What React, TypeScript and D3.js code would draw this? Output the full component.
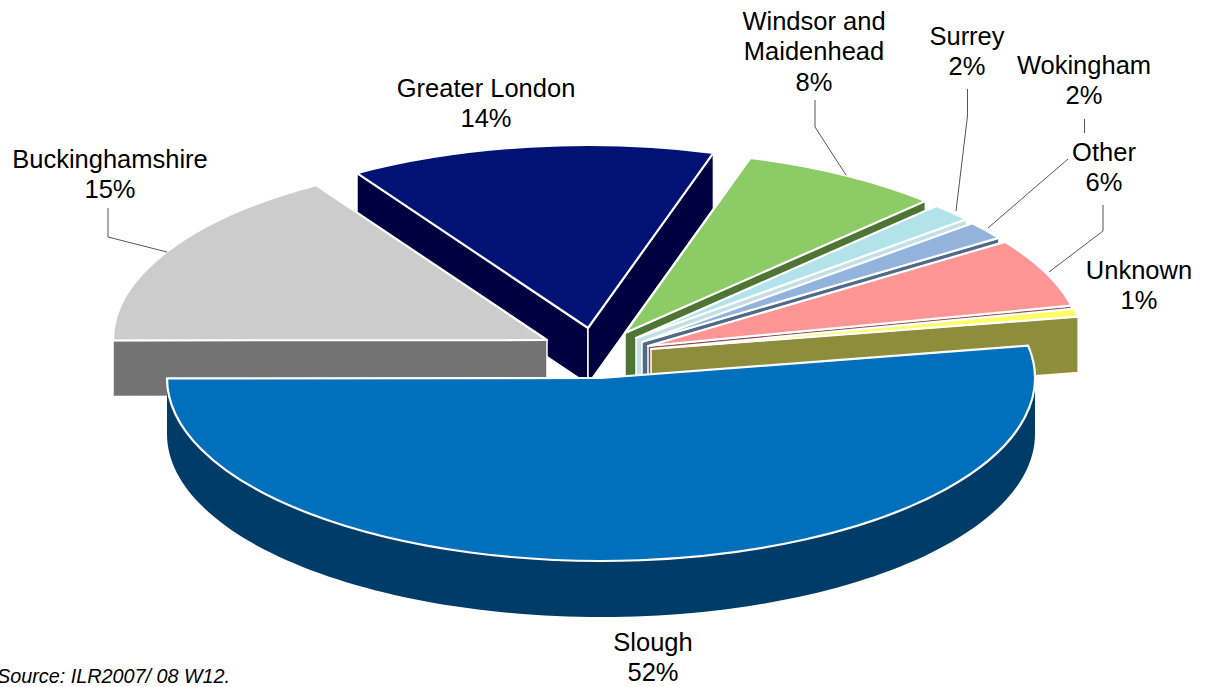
import React from "react";
import * as d3 from "d3";

// Data
const categories = ["Slough", "Buckinghamshire", "Greater London", "Windsor and Maidenhead", "Surrey", "Wokingham", "Other", "Unknown"];
const percentLabels = [52, 15, 14, 8, 2, 2, 6, 1];
// Wedge shares as drawn (perspective of the original distorts them slightly)
const drawnShares = [52.8, 16.1, 13.6, 7.5, 1.6, 1.6, 6.1, 0.7];

// Layout
const W = 1207, H = 687;
const RX = 434, RY = 183, DEPTH = 56;
const START_DEG = 79.8;
const apexX = [601, 547, 588, 625, 636, 642, 648, 651];
const apexY = [378, 340, 328, 333, 338, 342, 346, 349];
const topColors = ["#0070BC", "#CCCCCC", "#001273", "#8CCB66", "#B2E3EB", "#92B4DC", "#FF9696", "#FFFF66"];
const sideColors = ["#003C68", "#737373", "#000040", "#4F7534", "#C4E0E4", "#4F6A89", "#8A4E52", "#8E8D3C"];
const drawOrder = [2, 1, 3, 4, 5, 6, 7, 0];

const labelLines = [["Slough"], ["Buckinghamshire"], ["Greater London"], ["Windsor and", "Maidenhead"], ["Surrey"], ["Wokingham"], ["Other"], ["Unknown"]];
const labelX = [653, 110, 486, 814, 967, 1084, 1104, 1139];
const labelY = [644, 161, 90, 23, 38, 67, 154, 272];
const LINE_H = 30.5;

const leaderPoints: [number, number][][] = [
  [[108, 208], [108, 237], [167, 252]],
  [[815, 100], [815, 127], [846, 175]],
  [[967.5, 89], [967.5, 116], [956, 211]],
  [[1084.5, 119], [1084.5, 133]],
  [[1068, 159], [988, 228]],
  [[1103, 205], [1103, 231], [1049, 272]],
];

const rad = (d: number) => (d * Math.PI) / 180;
const lineGen = d3.line<[number, number]>();

export default function App() {
  const a0 = rad(START_DEG);
  const arcs = d3.pie<number>().sort(null).startAngle(a0).endAngle(a0 + 2 * Math.PI)(drawnShares);
  const arcGen = d3.arc<any>().innerRadius(0).outerRadius(RX);
  const px = (i: number, t: number) => apexX[i] + RX * Math.sin(t);
  const py = (i: number, t: number) => apexY[i] - RY * Math.cos(t);

  const slices = drawOrder.map((i) => {
    const arc = arcs[i];
    const s = arc.startAngle, e = arc.endAngle;
    const faces: string[] = [];
    const cut = (t: number) =>
      lineGen([
        [apexX[i], apexY[i]],
        [px(i, t), py(i, t)],
        [px(i, t), py(i, t) + DEPTH],
        [apexX[i], apexY[i] + DEPTH],
      ]) + "Z";
    if (Math.sin(s) < 0) faces.push(cut(s));
    if (Math.sin(e) > 0) faces.push(cut(e));
    // outer wall: the part of the rim on the near half of the ellipse
    let wall: string | null = null;
    const w0 = Math.max(s, Math.PI / 2), w1 = Math.min(e, (3 * Math.PI) / 2);
    if (w1 > w0) {
      const ts = d3.range(0, 121).map((k) => w0 + ((w1 - w0) * k) / 120);
      wall = d3
        .area<number>()
        .x((t) => px(i, t))
        .y0((t) => py(i, t))
        .y1((t) => py(i, t) + DEPTH)(ts);
    }
    return (
      <g key={categories[i]}>
        {faces.map((d, k) => (
          <path key={k} d={d} fill={sideColors[i]} stroke="#fff" strokeWidth={1.5} strokeLinejoin="round" />
        ))}
        {wall && <path d={wall} fill={sideColors[i]} />}
        <path
          d={arcGen(arc) as string}
          transform={`translate(${apexX[i]},${apexY[i]}) scale(1,${RY / RX})`}
          fill={topColors[i]}
          stroke="#fff"
          strokeWidth={2.2}
          strokeLinejoin="round"
          vectorEffect="non-scaling-stroke"
        />
      </g>
    );
  });

  return (
    <svg
      width={W}
      height={H}
      viewBox={`0 0 ${W} ${H}`}
      style={{ position: "absolute", left: 0, top: 0, background: "#fff" }}
      fontFamily="'Liberation Sans', Arial, sans-serif"
    >
      {slices}
      {leaderPoints.map((p, k) => (
        <path key={k} d={lineGen(p) as string} fill="none" stroke="#555" strokeWidth={1} />
      ))}
      {categories.map((c, i) => {
        const lines = [...labelLines[i], `${percentLabels[i]}%`];
        return (
          <text key={c} textAnchor="middle" fontSize={25.5} fill="#000">
            {lines.map((l, k) => (
              <tspan key={k} x={labelX[i]} y={labelY[i] + k * LINE_H} dominantBaseline="middle">
                {l}
              </tspan>
            ))}
          </text>
        );
      })}
      <text x={-3} y={683} fontSize={19.8} fontStyle="italic" fill="#000">
        Source: ILR2007/ 08 W12.
      </text>
    </svg>
  );
}
